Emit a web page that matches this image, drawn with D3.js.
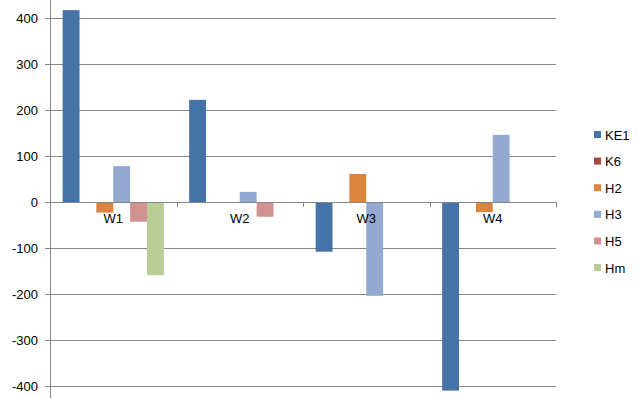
<!DOCTYPE html>
<html>
<head>
<meta charset="utf-8">
<script src="https://cdn.jsdelivr.net/npm/d3@7"></script>
<style>
  body { margin: 0; background: #fff; }
  svg { display: block; font-family: "Liberation Sans", Arial, sans-serif; }
</style>
</head>
<body>
<svg width="641" height="398"></svg>
<script>
const weeks = ['W1', 'W2', 'W3', 'W4'];
const seriesNames = ['KE1', 'K6', 'H2', 'H3', 'H5', 'Hm'];
const KE1 = [417, 222, -108, -410];
const K6 = [0, 0, 0, 0];
const H2 = [-23, 0, 61, -22];
const H3 = [78, 22, -204, 146];
const H5 = [-43, -32, 0, 0];
const Hm = [-159, 0, 0, 0];
const yTicks = [-400, -300, -200, -100, 0, 100, 200, 300, 400];
const colors = ['#4572A7', '#AA4643', '#DB843D', '#93A9CF', '#D19392', '#B9CD96'];

const seriesVals = [KE1, K6, H2, H3, H5, Hm];

const svg = d3.select('svg');
const plotL = 50, plotR = 556;

const y = d3.scaleLinear().domain([-400, 400]).range([386, 18]);
// Excel-like: gap width 150% split evenly around each group
const band = (plotR - plotL) / weeks.length;
const barW = band / (seriesNames.length + 1.5);
const xCat = d3.scaleBand().domain(weeks).range([plotL, plotR]).padding(0);
const xSer = d3.scaleBand().domain(seriesNames)
  .range([barW * 0.75, band - barW * 0.75]).padding(0);

// gridlines
svg.append('g')
  .selectAll('line')
  .data(yTicks.filter(d => d !== 0))
  .join('line')
  .attr('x1', plotL).attr('x2', plotR)
  .attr('y1', d => y(d)).attr('y2', d => y(d))
  .attr('stroke', '#868686').attr('stroke-width', 1)
  .attr('shape-rendering', 'crispEdges');

// bars
const groups = svg.append('g')
  .selectAll('g')
  .data(weeks)
  .join('g')
  .attr('transform', d => `translate(${xCat(d)},0)`);

groups.selectAll('rect')
  .data((w, i) => seriesNames.map((s, j) => ({ s, j, v: seriesVals[j][i] })))
  .join('rect')
  .attr('x', d => xSer(d.s))
  .attr('width', xSer.bandwidth())
  .attr('y', d => Math.min(y(d.v), y(0)))
  .attr('height', d => Math.abs(y(d.v) - y(0)))
  .attr('fill', d => colors[d.j]);

// y axis
const yAxis = svg.append('g')
  .attr('transform', `translate(${plotL},0)`)
  .call(d3.axisLeft(y).tickValues(yTicks).tickSize(5).tickPadding(7).tickFormat(d => String(d)));
yAxis.select('.domain').remove();
yAxis.selectAll('line').attr('stroke', '#868686');
yAxis.selectAll('text').attr('font-size', 13).attr('fill', '#000')
  .attr('font-family', '"Liberation Sans", Arial, sans-serif');
svg.append('line')
  .attr('x1', plotL + 0.5).attr('x2', plotL + 0.5)
  .attr('y1', 0).attr('y2', 398)
  .attr('stroke', '#868686');

// zero / category axis
const xAxis = svg.append('g')
  .attr('transform', `translate(0,${y(0)})`)
  .call(d3.axisBottom(xCat).tickSize(0).tickPadding(12));
xAxis.select('.domain').attr('stroke', '#868686');
xAxis.selectAll('text').attr('font-size', 13).attr('fill', '#000')
  .attr('font-family', '"Liberation Sans", Arial, sans-serif');
svg.append('g')
  .selectAll('line')
  .data(weeks.concat(['end']))
  .join('line')
  .attr('x1', (d, i) => Math.round(plotL + i * band) + 0.5)
  .attr('x2', (d, i) => Math.round(plotL + i * band) + 0.5)
  .attr('y1', y(0)).attr('y2', y(0) + 5)
  .attr('stroke', '#868686');

// legend
const legend = svg.append('g')
  .selectAll('g')
  .data(seriesNames)
  .join('g')
  .attr('transform', (d, i) => `translate(594,${135 + i * 26.6})`);
legend.append('rect')
  .attr('x', 0).attr('y', -4).attr('width', 7).attr('height', 7)
  .attr('fill', (d, i) => colors[i]);
legend.append('text')
  .attr('x', 11).attr('y', 0).attr('dy', '0.35em')
  .attr('font-size', 13)
  .text(d => d);
</script>
</body>
</html>
